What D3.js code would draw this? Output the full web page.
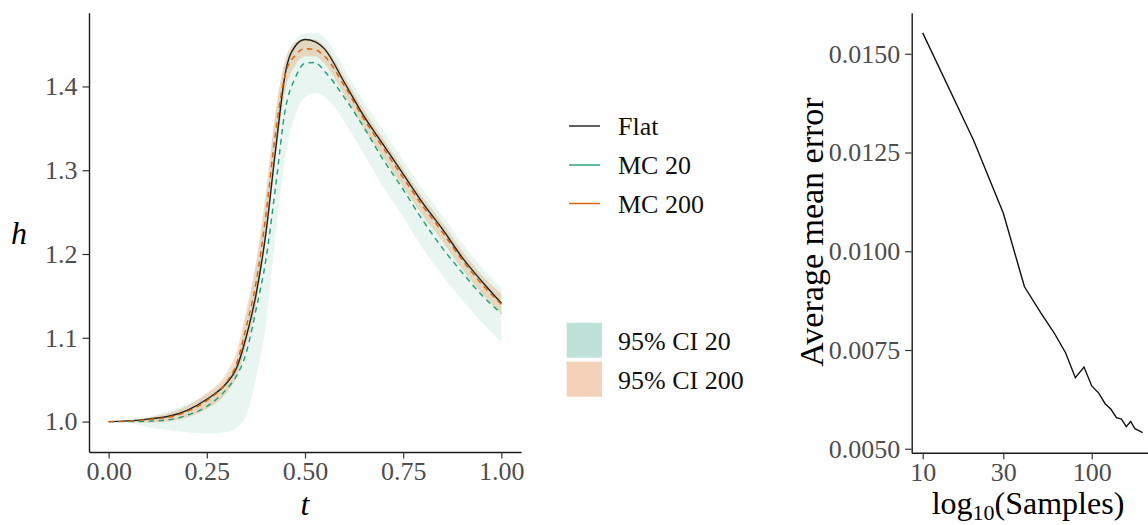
<!DOCTYPE html>
<html>
<head>
<meta charset="utf-8">
<script src="https://cdn.jsdelivr.net/npm/d3@7"></script>
<style>
  body { margin: 0; background: #fff; }
  svg { display: block; }
  text { font-family: "Liberation Serif", "DejaVu Serif", serif; }
</style>
</head>
<body>
<svg id="chart" width="1148" height="525"></svg>
<script>
// ---- left panel: h(t) ----
const tGrid      = [0, 0.05, 0.10, 0.15, 0.20, 0.25, 0.30, 0.325, 0.35, 0.375, 0.40, 0.425, 0.45, 0.475, 0.50, 0.525, 0.55, 0.60, 0.65, 0.70, 0.75, 0.80, 0.85, 0.90, 0.95, 1.00];
const flat       = [1.000, 1.0008, 1.003, 1.006, 1.0135, 1.0266, 1.0457, 1.063, 1.1007, 1.151, 1.2236, 1.324, 1.416, 1.448, 1.456, 1.4535, 1.4445, 1.405, 1.3645, 1.330, 1.2953, 1.2607, 1.2296, 1.196, 1.1675, 1.1413];
const mc20       = [1.000, 1.000, 1.0005, 1.002, 1.0075, 1.018, 1.0386, 1.054, 1.0816, 1.133, 1.192, 1.280, 1.373, 1.410, 1.4275, 1.4285, 1.418, 1.387, 1.351, 1.312, 1.277, 1.240, 1.207, 1.178, 1.151, 1.129];
const mc200      = [1.000, 1.0006, 1.0025, 1.005, 1.012, 1.025, 1.047, 1.068, 1.112, 1.165, 1.245, 1.345, 1.415, 1.437, 1.445, 1.444, 1.436, 1.401, 1.361, 1.326, 1.291, 1.257, 1.226, 1.193, 1.164, 1.140];
const ci20Lower  = [1.000, 0.9986, 0.9932, 0.990, 0.9872, 0.9857, 0.9876, 0.9926, 1.0075, 1.052, 1.115, 1.222, 1.316, 1.366, 1.387, 1.392, 1.388, 1.358, 1.319, 1.280, 1.244, 1.207, 1.174, 1.145, 1.119, 1.095];
const ci20Upper  = [1.000, 1.002, 1.006, 1.012, 1.0213, 1.033, 1.053, 1.073, 1.125, 1.185, 1.265, 1.368, 1.430, 1.455, 1.4635, 1.4645, 1.458, 1.421, 1.381, 1.347, 1.312, 1.277, 1.246, 1.213, 1.184, 1.159];
const ci200Lower = [1.000, 0.9995, 0.9985, 1.000, 1.005, 1.015, 1.034, 1.053, 1.090, 1.140, 1.215, 1.315, 1.396, 1.425, 1.436, 1.436, 1.427, 1.390, 1.350, 1.315, 1.280, 1.246, 1.215, 1.182, 1.153, 1.129];
const ci200Upper = [1.000, 1.0015, 1.0045, 1.010, 1.019, 1.034, 1.058, 1.083, 1.132, 1.190, 1.272, 1.370, 1.432, 1.452, 1.457, 1.456, 1.448, 1.412, 1.372, 1.337, 1.302, 1.268, 1.237, 1.204, 1.175, 1.152];

const tTicks = [0, 0.25, 0.50, 0.75, 1.00];
const hTicks = [1.0, 1.1, 1.2, 1.3, 1.4];

const lineSeries = ["Flat", "MC 20", "MC 200"];
const bandSeries = ["95% CI 20", "95% CI 200"];

// ---- right panel: convergence ----
const sampleSizes = [10, 20, 30, 40, 50, 60, 70, 80, 90, 100, 110, 120, 130, 140, 150, 160, 170, 180, 190, 200];
const meanError   = [0.01553, 0.01281, 0.01096, 0.00910, 0.00844, 0.00793, 0.00743, 0.00680, 0.00707, 0.00659, 0.00641, 0.00614, 0.00600, 0.00579, 0.00575, 0.00556, 0.00569, 0.00551, 0.00546, 0.00541];
const sampleTicks = [10, 30, 100];
const errorTicks  = [0.0050, 0.0075, 0.0100, 0.0125, 0.0150];

// colours and type sizes
const cFlat = "#1f1f1f", cMC20 = "#1b9e77", cMC200 = "#d95f02";
const tickColor = "#4d4d4d";
const tickFont = "26px", titleFont = "32px";

const svg = d3.select("#chart");

// ================= left panel =================
const x = d3.scaleLinear().domain([-0.05, 1.05]).range([89, 521]);
const y = d3.scaleLinear().domain([0.9637, 1.488]).range([452, 12.7]);

const rows = tGrid.map((t, i) => ({
  t, flat: flat[i], mc20: mc20[i], mc200: mc200[i],
  l20: ci20Lower[i], u20: ci20Upper[i], l200: ci200Lower[i], u200: ci200Upper[i]
}));

const curve = d3.curveMonotoneX;
const band = (lo, hi) => d3.area().x(d => x(d.t)).y0(d => y(d[lo])).y1(d => y(d[hi])).curve(curve);
const line = key => d3.line().x(d => x(d.t)).y(d => y(d[key])).curve(curve);

const left = svg.append("g");
left.append("path").datum(rows).attr("d", band("l20", "u20"))
  .attr("fill", cMC20).attr("fill-opacity", 0.1);
left.append("path").datum(rows).attr("d", band("l200", "u200"))
  .attr("fill", cMC200).attr("fill-opacity", 0.2);

left.append("path").datum(rows).attr("d", line("flat"))
  .attr("fill", "none").attr("stroke", cFlat).attr("stroke-width", 1.4);
left.append("path").datum(rows).attr("d", line("mc20"))
  .attr("fill", "none").attr("stroke", cMC20).attr("stroke-width", 1.4)
  .attr("stroke-dasharray", "5.5,4.5");
left.append("path").datum(rows).attr("d", line("mc200"))
  .attr("fill", "none").attr("stroke", cMC200).attr("stroke-width", 1.4)
  .attr("stroke-dasharray", "5.5,4.5");

function styleAxis(g) {
  g.select(".domain").attr("stroke", "#1a1a1a").attr("stroke-width", 1.4);
  g.selectAll(".tick line").attr("stroke", "#333").attr("stroke-width", 1.2);
  g.selectAll(".tick text").attr("fill", tickColor)
    .style("font-size", tickFont).style("font-family", '"Liberation Serif", serif');
}

svg.append("g").attr("transform", "translate(0,452)")
  .call(d3.axisBottom(x).tickValues(tTicks).tickFormat(d3.format(".2f"))
    .tickSize(6.5).tickSizeOuter(0).tickPadding(3))
  .call(styleAxis);
svg.append("g").attr("transform", "translate(89,0)")
  .call(d3.axisLeft(y).tickValues(hTicks).tickFormat(d3.format(".1f"))
    .tickSize(6.5).tickSizeOuter(0).tickPadding(5))
  .call(styleAxis);

svg.append("text").attr("x", 305).attr("y", 515).attr("text-anchor", "middle")
  .style("font-size", titleFont).style("font-style", "italic").text("t");
svg.append("text").attr("x", 19).attr("y", 244).attr("text-anchor", "middle")
  .style("font-size", titleFont).style("font-style", "italic").text("h");

// legend: lines
const legLines = [
  { name: lineSeries[0], color: cFlat, y: 126 },
  { name: lineSeries[1], color: cMC20, y: 165 },
  { name: lineSeries[2], color: cMC200, y: 203.5 }
];
const lg = svg.append("g");
legLines.forEach(d => {
  lg.append("line").attr("x1", 569).attr("x2", 600).attr("y1", d.y).attr("y2", d.y)
    .attr("stroke", d.color).attr("stroke-width", 1.4);
  lg.append("text").attr("x", 618).attr("y", d.y + 9)
    .style("font-size", tickFont).attr("fill", "#111").text(d.name);
});
// legend: bands
const legBands = [
  { name: bandSeries[0], color: "#bfe2d8", y: 322.7 },
  { name: bandSeries[1], color: "#f3d2b9", y: 361.7 }
];
legBands.forEach(d => {
  lg.append("rect").attr("x", 566.7).attr("y", d.y).attr("width", 35.3).attr("height", 35)
    .attr("fill", d.color);
  lg.append("text").attr("x", 618).attr("y", d.y + 27)
    .style("font-size", tickFont).attr("fill", "#111").text(d.name);
});

// ================= right panel =================
const xr = d3.scaleLog().domain([Math.pow(10, 0.935), Math.pow(10, 2.366)]).range([911.7, 1153.6]);
const yr = d3.scaleLinear().domain([0.00490, 0.01604]).range([452.7, 12.7]);

const errRows = sampleSizes.map((n, i) => ({ n, e: meanError[i] }));
svg.append("path").datum(errRows)
  .attr("d", d3.line().x(d => xr(d.n)).y(d => yr(d.e)))
  .attr("fill", "none").attr("stroke", "#111").attr("stroke-width", 1.4);

svg.append("g").attr("transform", "translate(0,452.7)")
  .call(d3.axisBottom(xr).tickValues(sampleTicks).tickFormat(d3.format("d"))
    .tickSize(6.5).tickSizeOuter(0).tickPadding(3))
  .call(styleAxis);
svg.append("g").attr("transform", "translate(911.7,0)")
  .call(d3.axisLeft(yr).tickValues(errorTicks).tickFormat(d3.format(".4f"))
    .tickSize(6.5).tickSizeOuter(0).tickPadding(5))
  .call(styleAxis);

svg.append("text").attr("transform", "translate(823,232) rotate(-90)")
  .attr("text-anchor", "middle").style("font-size", "34px").text("Average mean error");

const xt = svg.append("text").attr("x", 1028).attr("y", 514).attr("text-anchor", "middle")
  .style("font-size", titleFont);
xt.append("tspan").text("log");
xt.append("tspan").attr("dy", 6).style("font-size", "22px").text("10");
xt.append("tspan").attr("dy", -6).text("(Samples)");
</script>
</body>
</html>
